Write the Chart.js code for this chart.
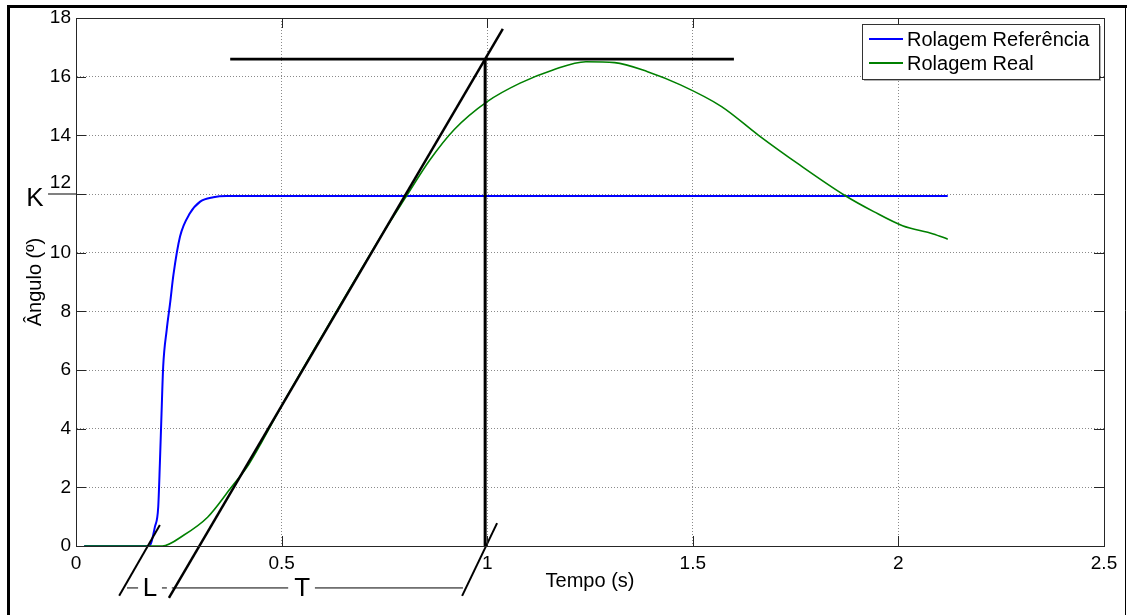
<!DOCTYPE html>
<html>
<head>
<meta charset="utf-8">
<script src="https://cdn.jsdelivr.net/npm/chart.js@4.4.1/dist/chart.umd.min.js"></script>
<style>
html, body { margin: 0; padding: 0; background: #fff; }
</style>
</head>
<body>
<canvas id="chart" width="1127" height="615"></canvas>
<script>
// reference roll (blue)
var refTime  = [0.02, 0.178, 0.192, 0.200, 0.204, 0.208, 0.212, 0.2205, 0.229, 0.237, 0.253, 0.277, 0.302, 0.334, 0.366, 2.12];
var refAngle = [0,    0,     0.66,  1.34,  2.82,  4.52,  6.11,  7.36,   8.30,  9.25,  10.55, 11.34, 11.74, 11.89, 11.93, 11.93];

// real roll (green)
var realTime  = [0.02, 0.21, 0.26, 0.32, 0.375, 0.42, 0.45, 0.50, 0.55, 0.60, 0.65, 0.70, 0.75, 0.80, 0.86, 0.92, 1.00, 1.08, 1.16, 1.24, 1.31, 1.39, 1.47, 1.57, 1.66, 1.76, 1.87, 1.94, 2.01, 2.085, 2.12];
var realAngle = [0,    0,    0.35, 0.98, 1.95,  2.78, 3.50, 4.78, 6.00, 7.20, 8.40, 9.58, 10.75, 11.85, 13.15, 14.2, 15.15, 15.78, 16.23, 16.51, 16.48, 16.17, 15.72, 14.98, 14.0, 12.99, 11.95, 11.40, 10.92, 10.64, 10.46];

var xTickValues = [0, 0.5, 1, 1.5, 2, 2.5];
var yTickValues = [0, 2, 4, 6, 8, 10, 12, 14, 16, 18];

// construction lines (tangent method), in data units
var tangentX = [0.226, 1.038], tangentY = [-1.77, 17.63];
var peakX = [0.375, 1.6],      peakY = [16.6, 16.6];
var riseX = [0.995, 0.995],    riseY = [0, 16.6];
var lSlashX = [0.105, 0.204],  lSlashY = [-1.7, 0.72];
var tSlashX = [0.939, 1.024],  tSlashY = [-1.7, 0.78];
var kLineX = [-0.068, 0],      kLineY = [12, 12];
var dimY = -1.43;
var dimSegments = [[0.124, 0.151], [0.209, 0.221], [0.233, 0.516], [0.581, 0.941]];
var markLabels = [
    { text: 'K', x: -0.1,  y: 11.86 },
    { text: 'L', x: 0.180, y: -1.43 },
    { text: 'T', x: 0.550, y: -1.43 }
];

var FONT = '"Liberation Sans", Arial, sans-serif';

function pts(xs, ys) {
    return xs.map(function(x, i) { return { x: x, y: ys[i] }; });
}

function segment(xs, ys, width, color) {
    return {
        label: '',
        data: pts(xs, ys),
        borderColor: color || '#000',
        borderWidth: width,
        pointRadius: 0,
        tension: 0,
        clip: false,
        order: 0
    };
}

var datasets = [
    {
        label: 'Rolagem Referência',
        data: pts(refTime, refAngle),
        borderColor: '#0000ff',
        borderWidth: 2,
        pointRadius: 0,
        cubicInterpolationMode: 'monotone',
        inLegend: true,
        order: 2
    },
    {
        label: 'Rolagem Real',
        data: pts(realTime, realAngle),
        borderColor: '#008000',
        borderWidth: 1.6,
        pointRadius: 0,
        cubicInterpolationMode: 'monotone',
        inLegend: true,
        order: 1
    },
    segment(tangentX, tangentY, 2.5),
    segment(peakX, peakY, 2.8),
    segment(riseX, riseY, 3),
    segment(lSlashX, lSlashY, 2),
    segment(tSlashX, tSlashY, 2),
    segment(kLineX, kLineY, 2, '#808080')
];
dimSegments.forEach(function(s) {
    datasets.push(segment(s, [dimY, dimY], 1));
});

var frame = {
    id: 'frame',
    beforeDraw: function(chart) {
        var c = chart.ctx;
        c.save();
        c.fillStyle = '#fff';
        c.fillRect(0, 0, chart.width, chart.height);
        c.strokeStyle = '#000';
        c.lineWidth = 3;
        c.beginPath();
        c.moveTo(8.5, chart.height);
        c.lineTo(8.5, 6.5);
        c.lineTo(chart.width, 6.5);
        c.stroke();
        c.lineWidth = 1;
        c.beginPath();
        c.moveTo(chart.width - 1.5, 6);
        c.lineTo(chart.width - 1.5, chart.height);
        c.stroke();
        c.restore();
    },
    afterDatasetsDraw: function(chart) {
        var c = chart.ctx;
        var a = chart.chartArea;
        var xs = chart.scales.x, ys = chart.scales.y;
        c.save();

        // axes box and inward ticks
        c.strokeStyle = '#262626';
        c.lineWidth = 1;
        c.strokeRect(Math.round(a.left) + 0.5, Math.round(a.top) + 0.5, Math.round(a.right - a.left), Math.round(a.bottom - a.top));
        c.beginPath();
        xs.ticks.forEach(function(t) {
            var p = Math.round(xs.getPixelForValue(t.value)) + 0.5;
            c.moveTo(p, a.bottom); c.lineTo(p, a.bottom - 10);
            c.moveTo(p, a.top); c.lineTo(p, a.top + 10);
        });
        ys.ticks.forEach(function(t) {
            var p = Math.round(ys.getPixelForValue(t.value)) + 0.5;
            c.moveTo(a.left, p); c.lineTo(a.left + 10, p);
            c.moveTo(a.right, p); c.lineTo(a.right - 10, p);
        });
        c.stroke();

        // K, L, T marks
        c.fillStyle = '#000';
        c.font = '26px ' + FONT;
        c.textAlign = 'center';
        c.textBaseline = 'middle';
        markLabels.forEach(function(m) {
            c.fillText(m.text, xs.getPixelForValue(m.x), ys.getPixelForValue(m.y) + 1);
        });

        // legend box
        var items = chart.data.datasets.filter(function(d) { return d.inLegend; });
        c.font = '20px ' + FONT;
        var tw = Math.max.apply(null, items.map(function(d) { return c.measureText(d.label).width; }));
        var bw = Math.round(45 + tw + 10), bh = 55;
        var bx = Math.round(a.right - 5 - bw), by = Math.round(a.top + 6);
        c.fillStyle = 'rgba(0,0,0,0.3)';
        c.fillRect(bx + 2, by + 2, bw, bh);
        c.fillStyle = '#fff';
        c.fillRect(bx, by, bw, bh);
        c.strokeStyle = '#333';
        c.strokeRect(bx + 0.5, by + 0.5, bw, bh);
        c.textAlign = 'left';
        items.forEach(function(d, i) {
            var y = by + 15 + i * 24;
            c.strokeStyle = d.borderColor;
            c.lineWidth = 2;
            c.beginPath();
            c.moveTo(bx + 7, y);
            c.lineTo(bx + 41, y);
            c.stroke();
            c.fillStyle = '#000';
            c.fillText(d.label, bx + 45, y + 1);
        });
        c.restore();
    }
};

new Chart(document.getElementById('chart'), {
    type: 'line',
    data: { datasets: datasets },
    options: {
        responsive: false,
        animation: false,
        events: [],
        layout: { padding: { left: 10, right: 23, top: 18, bottom: 0 } },
        plugins: { legend: { display: false }, tooltip: { enabled: false } },
        scales: {
            x: {
                type: 'linear',
                min: 0,
                max: 2.5,
                afterBuildTicks: function(s) { s.ticks = xTickValues.map(function(v) { return { value: v }; }); },
                afterFit: function(s) { s.height = 69; },
                grid: { color: '#8a8a8a', drawTicks: false },
                border: { color: '#262626', dash: [1, 2] },
                ticks: {
                    padding: 6, color: '#000', font: { size: 19, family: FONT }, maxRotation: 0, autoSkip: false,
                    callback: function(v) { return String(v); }
                },
                title: { display: true, text: 'Tempo (s)', color: '#000', font: { size: 20, family: FONT }, padding: { top: 0, bottom: 22 } }
            },
            y: {
                min: 0,
                max: 18,
                afterBuildTicks: function(s) { s.ticks = yTickValues.map(function(v) { return { value: v }; }); },
                afterFit: function(s) { s.width = 66; },
                grid: { color: '#8a8a8a', drawTicks: false },
                border: { color: '#262626', dash: [1, 2] },
                ticks: {
                    padding: 5, color: '#000', font: { size: 19, family: FONT }, autoSkip: false,
                    // the 12 label sits raised above the K line in the original
                    callback: function(v) { return v === 12 ? ['12', ''] : String(v); }
                },
                title: { display: true, text: 'Ângulo (º)', color: '#000', font: { size: 20, family: FONT }, padding: { top: 13, bottom: 0 } }
            }
        }
    },
    plugins: [frame]
});
</script>
</body>
</html>
